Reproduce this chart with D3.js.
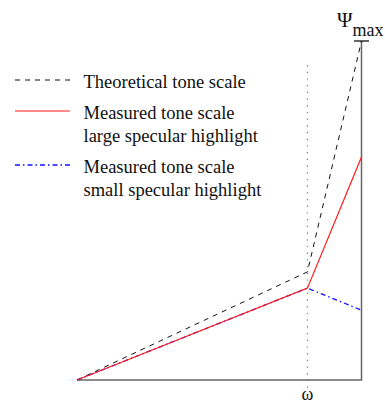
<!DOCTYPE html>
<html>
<head>
<meta charset="utf-8">
<script src="https://cdn.jsdelivr.net/npm/d3@7"></script>
<style>
  body { margin: 0; background: #fff; }
  text { font-family: "Liberation Serif", "DejaVu Serif", serif; fill: #111; }
</style>
</head>
<body>
<svg id="chart" width="385" height="405"></svg>
<script>
// x is exposure (0..1 of the axis), omega marks the knee; y is Psi, 1 = Psi_max
const omega = 0.81;
const xPoints = [0, omega, 1];
const theoretical = [0, 0.319, 1.0];
const largeHighlight = [0, 0.271, 0.658];
const smallHighlight = [0, 0.271, 0.206];

const legendLabels = [
    ['Theoretical tone scale'],
    ['Measured tone scale', 'large specular highlight'],
    ['Measured tone scale', 'small specular highlight']
];

const svg = d3.select('#chart');

const x = d3.scaleLinear().domain([0, 1]).range([77, 361.5]);
const y = d3.scaleLinear().domain([0, 1]).range([380, 41]);

const series = [
    { values: theoretical, color: '#111', dash: '5,5', width: 1 },
    { values: largeHighlight, color: '#ff1a1a', dash: null, width: 1.2 },
    { values: smallHighlight, color: '#1010ff', dash: '5,3,1.5,3', width: 1.3 }
];

//dotted omega guide
svg.append('line')
    .attr('x1', x(omega)).attr('x2', x(omega))
    .attr('y1', 65).attr('y2', 391)
    .attr('stroke', '#777')
    .attr('stroke-width', 1.2)
    .attr('stroke-dasharray', '1.2,5.5');

//axes: bottom line and right line with top tick
svg.append('path')
    .attr('d', `M${x(0)},${y(0)}H${x(1)}V${y(1)}`)
    .attr('fill', 'none')
    .attr('stroke', '#666')
    .attr('stroke-width', 1.5);
svg.append('line')
    .attr('x1', x(1) - 7.5).attr('x2', x(1) + 7.5)
    .attr('y1', y(1)).attr('y2', y(1))
    .attr('stroke', '#111')
    .attr('stroke-width', 1.3);

const line = d3.line()
    .x((d, i) => x(xPoints[i]))
    .y(d => y(d));

//draw the three tone curves, solid one last on top of the dash-dot
[series[0], series[2], series[1]].forEach(s => {
    svg.append('path')
        .attr('d', line(s.values))
        .attr('fill', 'none')
        .attr('stroke', s.color)
        .attr('stroke-width', s.width)
        .attr('stroke-dasharray', s.dash);
});

//labels
const psi = svg.append('text')
    .attr('x', 337)
    .attr('y', 27)
    .style('font-size', '21px');
psi.append('tspan').text('Ψ');
psi.append('tspan')
    .attr('dy', 9)
    .style('font-size', '18px')
    .text('max');

svg.append('text')
    .attr('x', x(omega))
    .attr('y', 400)
    .attr('text-anchor', 'middle')
    .style('font-size', '18px')
    .text('ω');

//legend
const legendY = [80, 111, 165];
legendLabels.forEach((lines, i) => {
    const s = series[i];
    svg.append('line')
        .attr('x1', 15).attr('x2', 70)
        .attr('y1', legendY[i]).attr('y2', legendY[i])
        .attr('stroke', s.color)
        .attr('stroke-width', s.width)
        .attr('stroke-dasharray', s.dash);
    const t = svg.append('text')
        .attr('x', 83.5)
        .attr('y', legendY[i] + 8)
        .style('font-size', '18.5px');
    lines.forEach((l, j) => {
        t.append('tspan')
            .attr('x', 83.5)
            .attr('dy', j === 0 ? 0 : 23)
            .text(l);
    });
});
</script>
</body>
</html>
